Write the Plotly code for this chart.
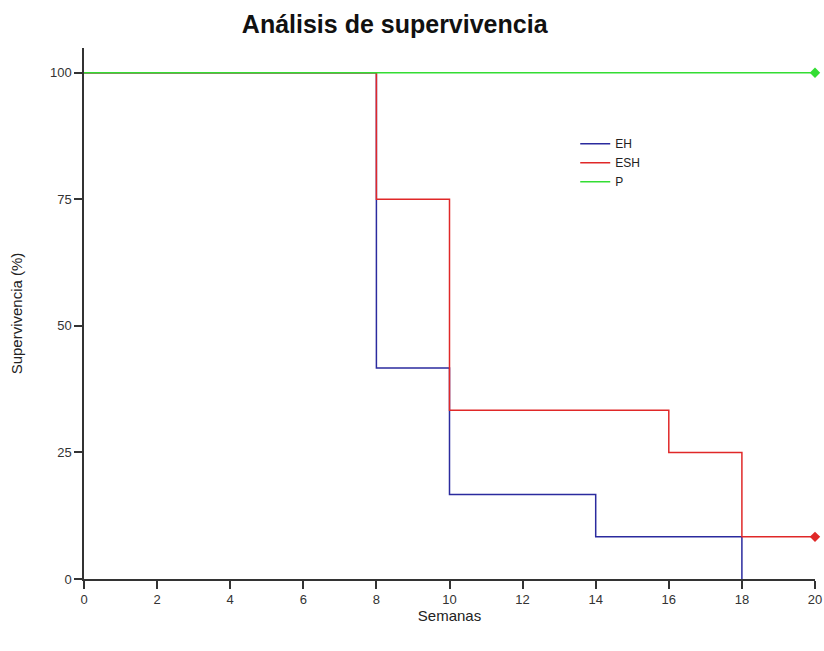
import plotly.graph_objects as go

# Survival (%) per group at each event week (step functions)
eh_weeks = [0, 8, 10, 14, 18]
eh_surv = [100, 41.67, 16.67, 8.33, 0]

esh_weeks = [0, 8, 10, 16, 18, 20]
esh_surv = [100, 75, 33.33, 25, 8.33, 8.33]

p_weeks = [0, 20]
p_surv = [100, 100]

x_ticks = list(range(0, 21, 2))
y_ticks = [0, 25, 50, 75, 100]

c_eh = "#2b2b9e"
c_esh = "#e02828"
c_p = "#33dd33"

fig = go.Figure()
for name, xs, ys, col in [("EH", eh_weeks, eh_surv, c_eh),
                          ("ESH", esh_weeks, esh_surv, c_esh),
                          ("P", p_weeks, p_surv, c_p)]:
    fig.add_trace(go.Scatter(x=xs, y=ys, mode="lines", name=name,
                             line=dict(color=col, width=1.5, shape="hv")))

# censored end points
for xs, ys, col in [(esh_weeks, esh_surv, c_esh), (p_weeks, p_surv, c_p)]:
    fig.add_trace(go.Scatter(x=[xs[-1]], y=[ys[-1]], mode="markers", showlegend=False,
                             marker=dict(symbol="diamond", size=8, color=col),
                             cliponaxis=False))

axis_common = dict(showline=True, linecolor="#333333", linewidth=1.5, ticks="outside",
                   ticklen=8, tickwidth=1.5, tickcolor="#333333", showgrid=False,
                   zeroline=False, automargin=False,
                   tickfont=dict(size=13, color="#333333"))

fig.update_layout(
    width=824, height=651,
    margin=dict(l=84, r=9, t=48, b=72),
    paper_bgcolor="white", plot_bgcolor="white",
    font=dict(family="Liberation Sans, Arial, sans-serif", color="#222222"),
    title=dict(text="<b>Análisis de supervivencia</b>", x=0.479, xanchor="center",
               y=0.962, yanchor="middle", font=dict(size=25, color="#111111")),
    xaxis=dict(range=[0, 20], tickvals=x_ticks,
               title=dict(text="Semanas", font=dict(size=15), standoff=4), **axis_common),
    yaxis=dict(range=[0, 104.9], tickvals=y_ticks,
               title=dict(text="Supervivencia (%)", font=dict(size=15), standoff=24), **axis_common),
    legend=dict(x=0.672, y=0.847, xanchor="left", yanchor="top", bgcolor="rgba(0,0,0,0)",
                font=dict(size=12, color="#222222"), tracegroupgap=0, itemwidth=30),
    showlegend=True,
)

fig.write_html("out.html")
